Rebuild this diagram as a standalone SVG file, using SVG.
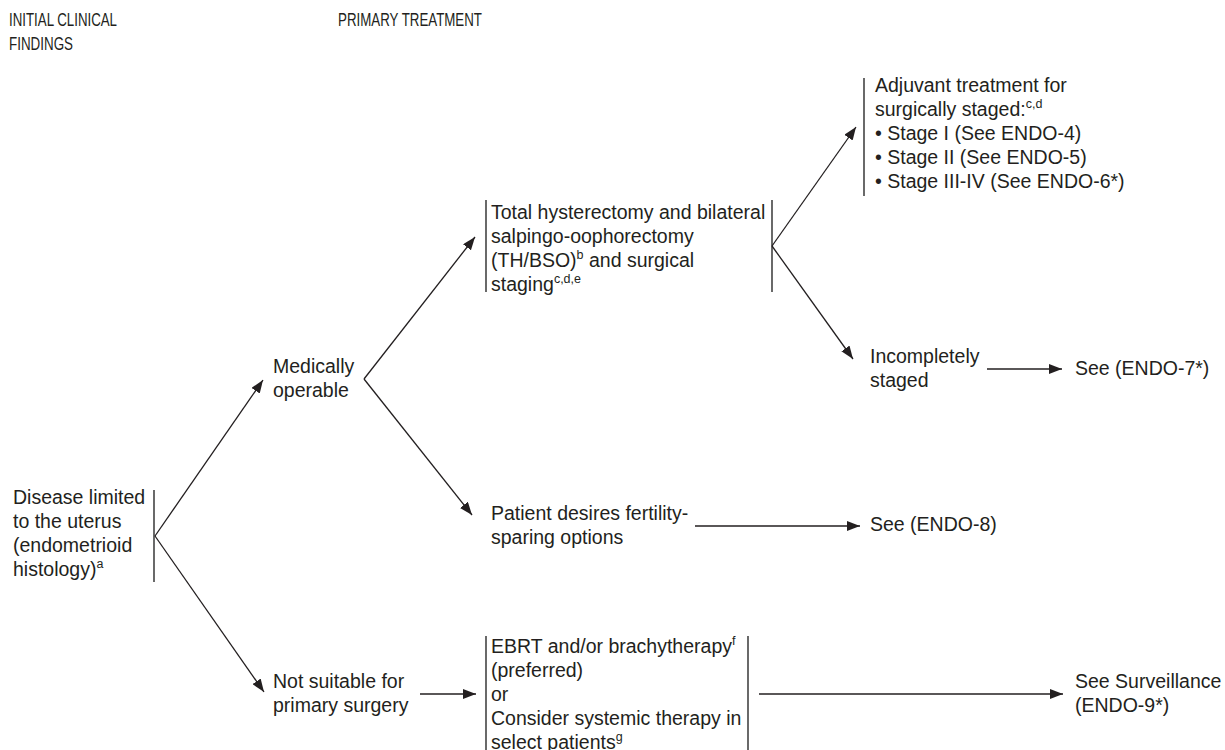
<svg xmlns="http://www.w3.org/2000/svg" width="1225" height="750" viewBox="0 0 1225 750">
<style>
text{font-family:"Liberation Sans",Arial,sans-serif;font-size:19.5px;fill:#231f20}
.hdr{font-size:18px}
.sup{font-size:12.5px}
.bar{stroke:#444;stroke-width:1.6;fill:none}
.conn line{stroke:#231f20;stroke-width:1.3;fill:none;marker-end:url(#ah)}
</style>
<defs>
<marker id="ah" markerUnits="userSpaceOnUse" markerWidth="14" markerHeight="10" refX="13" refY="5" orient="auto">
<path d="M0,0 L13,5 L0,10 Z" fill="#231f20"/>
</marker>
</defs>
<g id="headers">
<text class="hdr" x="9" y="26" textLength="108" lengthAdjust="spacingAndGlyphs">INITIAL CLINICAL</text>
<text class="hdr" x="9" y="50" textLength="64" lengthAdjust="spacingAndGlyphs">FINDINGS</text>
<text class="hdr" x="338" y="26" textLength="144" lengthAdjust="spacingAndGlyphs">PRIMARY TREATMENT</text>
</g>
<g id="disease">
<text x="13" y="504">Disease limited</text>
<text x="13" y="528">to the uterus</text>
<text x="13" y="552">(endometrioid</text>
<text x="13" y="576">histology)<tspan class="sup" dy="-8">a</tspan></text>
<line class="bar" x1="154" y1="490" x2="154" y2="582"/>
</g>
<g id="operable">
<text x="273" y="373">Medically</text>
<text x="273" y="397">operable</text>
</g>
<g id="notsuitable">
<text x="273" y="688">Not suitable for</text>
<text x="273" y="712">primary surgery</text>
</g>
<g id="hysterectomy">
<text x="491" y="219">Total hysterectomy and bilateral</text>
<text x="491" y="243">salpingo-oophorectomy</text>
<text x="491" y="267">(TH/BSO)<tspan class="sup" dy="-8">b</tspan><tspan dy="8"> and surgical</tspan></text>
<text x="491" y="291">staging<tspan class="sup" dy="-8">c,d,e</tspan></text>
<line class="bar" x1="486" y1="200" x2="486" y2="292"/>
<line class="bar" x1="772" y1="200" x2="772" y2="292"/>
</g>
<g id="fertility">
<text x="491" y="520">Patient desires fertility-</text>
<text x="491" y="544">sparing options</text>
</g>
<g id="ebrt">
<text x="491" y="653">EBRT and/or brachytherapy<tspan class="sup" dy="-8">f</tspan></text>
<text x="491" y="677">(preferred)</text>
<text x="491" y="701">or</text>
<text x="491" y="725">Consider systemic therapy in</text>
<text x="491" y="749">select patients<tspan class="sup" dy="-8">g</tspan></text>
<line class="bar" x1="486" y1="636" x2="486" y2="750"/>
<line class="bar" x1="748" y1="636" x2="748" y2="750"/>
</g>
<g id="adjuvant">
<text x="875" y="92">Adjuvant treatment for</text>
<text x="875" y="116">surgically staged:<tspan class="sup" dy="-8">c,d</tspan></text>
<text x="875" y="140">• Stage I (See ENDO-4)</text>
<text x="875" y="164">• Stage II (See ENDO-5)</text>
<text x="875" y="188">• Stage III-IV (See ENDO-6*)</text>
<line class="bar" x1="864" y1="78" x2="864" y2="196"/>
</g>
<g id="incomplete">
<text x="870" y="363">Incompletely</text>
<text x="870" y="387">staged</text>
</g>
<g id="endo7"><text x="1075" y="375">See (ENDO-7*)</text></g>
<g id="endo8"><text x="870" y="531">See (ENDO-8)</text></g>
<g id="surveillance">
<text x="1075" y="688">See Surveillance</text>
<text x="1075" y="712">(ENDO-9*)</text>
</g>
<g id="connectors" class="conn">
<line x1="155" y1="536" x2="263" y2="380"/>
<line x1="155" y1="536" x2="264" y2="692"/>
<line x1="364" y1="379" x2="475" y2="237"/>
<line x1="364" y1="379" x2="472" y2="515"/>
<line x1="420" y1="694" x2="476" y2="694"/>
<line x1="695" y1="526" x2="860" y2="526"/>
<line x1="772" y1="246" x2="856" y2="127"/>
<line x1="772" y1="246" x2="853" y2="359"/>
<line x1="987" y1="369" x2="1062" y2="369"/>
<line x1="759" y1="694" x2="1063" y2="694"/>
</g>
</svg>
